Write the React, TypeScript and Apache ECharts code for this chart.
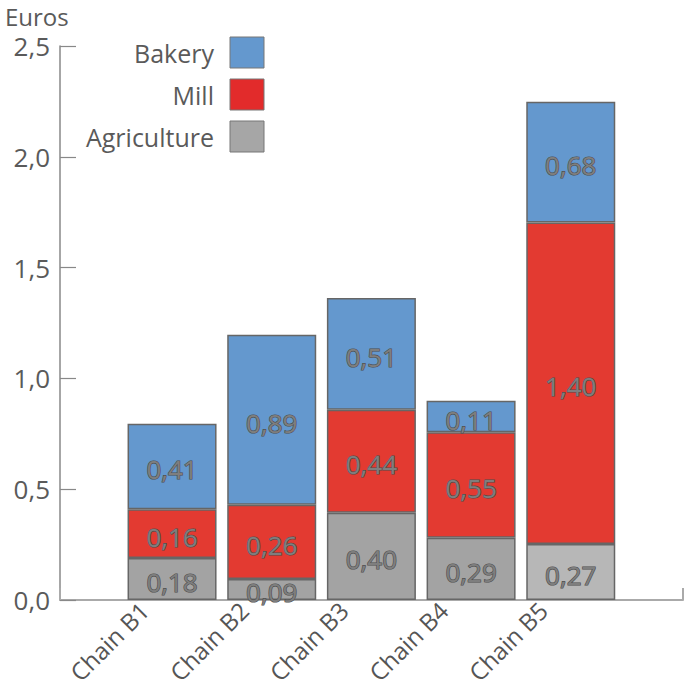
import React, { useEffect, useRef } from "react";
import * as echarts from "echarts";

const categories = ["Chain B1", "Chain B2", "Chain B3", "Chain B4", "Chain B5"];
// Printed values (labels)
const agricultureValues = [0.18, 0.09, 0.4, 0.29, 0.27];
const millValues = [0.16, 0.26, 0.44, 0.55, 1.4];
const bakeryValues = [0.41, 0.89, 0.51, 0.11, 0.68];
// Segment heights as drawn in the picture
const agricultureHeights = [0.19, 0.095, 0.394, 0.281, 0.253];
const millHeights = [0.22, 0.335, 0.464, 0.476, 1.451];
const bakeryHeights = [0.385, 0.767, 0.505, 0.142, 0.544];
const agricultureColors = ["#a3a3a3", "#a3a3a3", "#a3a3a3", "#a3a3a3", "#b7b7b7"];
const yTicks = [0, 0.5, 1, 1.5, 2, 2.5];
const legendNames = ["Bakery", "Mill", "Agriculture"];
const legendColors = ["#6498ce", "#e22b2b", "#a6a6a6"];

const FONT = "'Open Sans', 'Noto Sans', sans-serif";
const fmt = (v: number, d: number) => v.toFixed(d).replace(".", ",");

export default function App() {
  const ref = useRef<HTMLDivElement>(null);
  useEffect(() => {
    if (!ref.current) return;
    const chart = echarts.init(ref.current, undefined, { renderer: "svg" });
    const labelStyle = (vals: number[]) => ({
      show: true,
      position: "inside" as const,
      offset: [0, 3],
      fontFamily: FONT,
      fontSize: 26,
      color: "#7e7e7e",
      textBorderColor: "#4e4e4e",
      textBorderWidth: 1.2,
      formatter: (p: any) => fmt(vals[p.dataIndex], 2),
    });
    const itemStyle = (color: string) => ({ color, borderColor: "#666", borderWidth: 1.5 });
    const legendGraphic: any[] = [];
    legendNames.forEach((n, i) => {
      const y = 37 + i * 42;
      legendGraphic.push({
        type: "rect",
        shape: { x: 230, y, width: 34, height: 31 },
        style: { fill: legendColors[i], stroke: "#777", lineWidth: 1 },
      });
      legendGraphic.push({
        type: "text",
        x: 214,
        y: y + 16,
        style: {
          text: n,
          fontFamily: FONT,
          fontSize: 25,
          fill: "#5a5a5a",
          align: "right",
          verticalAlign: "middle",
        },
      });
    });
    chart.setOption({
      animation: false,
      textStyle: { fontFamily: FONT },
      grid: [
        { left: 60, top: 46, width: 623, height: 554 },
        { left: 122.2, top: 46, width: 498.4, height: 554 },
        { left: 94.5, top: 46, width: 498.4, height: 554 },
      ],
      xAxis: [
        {
          type: "value",
          gridIndex: 0,
          min: 0,
          max: 1,
          interval: 1,
          axisLine: { show: true, lineStyle: { color: "#aaa", width: 2 } },
          axisTick: { show: true, inside: true, length: 12, lineStyle: { color: "#aaa", width: 2 } },
          axisLabel: { show: false },
          splitLine: { show: false },
        },
        {
          type: "category",
          gridIndex: 1,
          data: categories,
          axisLine: { show: false },
          axisTick: { show: false },
          axisLabel: { show: false },
        },
        {
          type: "category",
          gridIndex: 2,
          data: categories,
          axisLine: { show: false },
          axisTick: { show: false },
          axisLabel: {
            rotate: 45,
            margin: 6,
            fontFamily: FONT,
            fontSize: 24,
            color: "#555",
            interval: 0,
          },
        },
      ],
      yAxis: [
        {
          type: "value",
          gridIndex: 0,
          min: yTicks[0],
          max: yTicks[yTicks.length - 1],
          interval: 0.5,
          axisLine: { show: true, lineStyle: { color: "#888", width: 1.5 } },
          axisTick: { show: true, inside: true, length: 16, lineStyle: { color: "#888", width: 1.2 } },
          axisLabel: {
            margin: 10,
            fontFamily: FONT,
            fontSize: 26,
            color: "#5a5a5a",
            formatter: (v: number) => fmt(v, 1),
          },
          splitLine: { show: false },
        },
        {
          type: "value",
          gridIndex: 1,
          min: 0,
          max: 2.5,
          interval: 0.5,
          show: false,
        },
        {
          type: "value",
          gridIndex: 2,
          min: 0,
          max: 2.5,
          interval: 0.5,
          show: false,
        },
      ],
      graphic: [
        {
          type: "text",
          x: 5,
          y: 4,
          style: {
            text: "Euros",
            fontFamily: FONT,
            fontSize: 24,
            fill: "#5a5a5a",
            verticalAlign: "top",
          },
        },
        ...legendGraphic,
      ],
      series: [
        {
          name: "Agriculture",
          type: "bar",
          stack: "t",
          xAxisIndex: 1,
          yAxisIndex: 1,
          barWidth: 89,
          data: agricultureHeights.map((v, i) => ({ value: v, itemStyle: { color: agricultureColors[i] } })),
          itemStyle: itemStyle("#a3a3a3"),
          label: labelStyle(agricultureValues),
        },
        {
          name: "Mill",
          type: "bar",
          stack: "t",
          xAxisIndex: 1,
          yAxisIndex: 1,
          barWidth: 89,
          data: millHeights,
          itemStyle: itemStyle("#e33a31"),
          label: labelStyle(millValues),
        },
        {
          name: "Bakery",
          type: "bar",
          stack: "t",
          xAxisIndex: 1,
          yAxisIndex: 1,
          barWidth: 89,
          data: bakeryHeights,
          itemStyle: itemStyle("#6498ce"),
          label: labelStyle(bakeryValues),
        },
      ],
    });
    return () => chart.dispose();
  }, []);
  return (
    <div
      ref={ref}
      style={{ position: "fixed", left: 0, top: 0, width: 685, height: 692, background: "#fff" }}
    />
  );
}
